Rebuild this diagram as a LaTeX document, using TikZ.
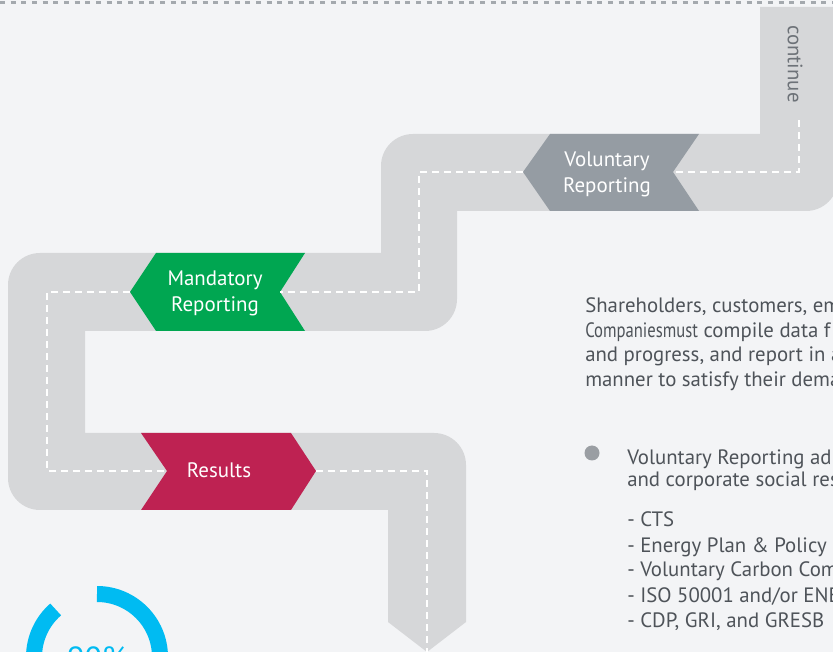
\documentclass[tikz,border=0pt]{standalone}
\usepackage{fontspec}
\setmainfont{PT Sans}
\usepackage{graphicx}
\definecolor{bg}{HTML}{F3F4F6}
\definecolor{roadgray}{HTML}{D6D7D9}
\definecolor{topdash}{HTML}{A4A9AE}
\definecolor{volgray}{HTML}{959CA3}
\definecolor{mandgreen}{HTML}{00A651}
\definecolor{rescrim}{HTML}{BE2252}
\definecolor{ringcyan}{HTML}{00BBF2}
\definecolor{txtgray}{HTML}{4E5359}
\definecolor{contgray}{HTML}{6D7278}
\definecolor{bulgray}{HTML}{9A9EA3}
\tikzset{
  road/.style={fill=roadgray},
  centerdash/.style={draw=white, line width=1.9pt, dash pattern=on 5.25pt off 3.75pt},
  chevtext/.style={text=white, font=\fontsize{15.7}{19.5}\selectfont, align=center, inner sep=0pt},
  bodytext/.style={text=txtgray, font=\fontsize{15.6}{18}\selectfont, anchor=base west, inner sep=0pt},
}
\begin{document}
\begin{tikzpicture}[x=0.75pt,y=-0.75pt]
\useasboundingbox (0,0) rectangle (833,652);
\clip (0,0) rectangle (833,652);
\fill[bg] (0,0) rectangle (833,652);
% top dashed rule
\draw[topdash, line width=2.2pt, dash pattern=on 3.75pt off 4.25pt] (0,2.5) -- (833,2.5);
% road
\fill[road] (760,7) -- (838,7) -- (838,179) .. controls (838,196.7) and (823.7,211) .. (806,211)
  -- (457,211) -- (457,299) .. controls (457,316.7) and (442.7,331) .. (425,331)
  -- (85,331) -- (85,433) -- (434,433) .. controls (451.7,433) and (466,447.3) .. (466,465)
  -- (466,622) -- (427,652) -- (388,622) -- (388,510) -- (40,510)
  .. controls (22.3,510) and (8,495.7) .. (8,478) -- (8,285)
  .. controls (8,267.3) and (22.3,253) .. (40,253) -- (381,253) -- (381,166)
  .. controls (381,148.3) and (395.3,134) .. (413,134) -- (760,134) -- cycle;
% chevrons
\fill[volgray] (523,172) -- (550,134) -- (699,134) -- (673,172) -- (699,211) -- (550,211) -- cycle;
\fill[mandgreen] (130,292) -- (156,253) -- (305,253) -- (280,292) -- (305,331) -- (156,331) -- cycle;
\fill[rescrim] (141,433) -- (291,433) -- (316,471) -- (291,510) -- (141,510) -- (167,471) -- cycle;
\node[chevtext] (vol) at (607,174) {Voluntary\\Reporting};
\node[chevtext] (mand) at (215,293) {Mandatory\\Reporting};
\node[chevtext, anchor=base] (res) at (219,478) {Results};
% connector anchor points
\coordinate (start) at (799,120);
\coordinate (c1) at (799,172);
\coordinate (volR) at (673,172);
\coordinate (volL) at (523,172);
\coordinate (c2) at (419,172);
\coordinate (c3) at (419,292);
\coordinate (mandR) at (280,292);
\coordinate (mandL) at (130,292);
\coordinate (c4) at (47,292);
\coordinate (c5) at (47,471);
\coordinate (resL) at (167,471);
\coordinate (resR) at (316,471);
\coordinate (c6) at (427,471);
\coordinate (tip) at (427,652);
\draw[centerdash] (start) -- (c1) -- (volR);
\draw[centerdash] (volL) -- (c2) -- (c3) -- (mandR);
\draw[centerdash] (mandL) -- (c4) -- (c5) -- (resL);
\draw[centerdash] (resR) -- (c6) -- (tip);
% continue label
\node[text=contgray, font=\fontsize{15.6}{17}\selectfont, rotate=-90, inner sep=0pt] (cont) at (795,64) {continue};
% body text
\node[bodytext] (t1) at (585,313) {Shareholders, customers, em};
\node[bodytext] (t2) at (585,338) {\scalebox{0.8}[1]{Companiesmust} compile data f};
\node[bodytext] (t3) at (585,362) {and progress, and report in a};
\node[bodytext] (t4) at (585,387) {manner to satisfy their dema};
% bullet list
\fill[bulgray] (592,453) circle[radius=7.5];
\node[bodytext] (b1) at (627,465) {Voluntary Reporting ad};
\node[bodytext] (b2) at (627,487) {and corporate social res};
\node[bodytext] (b3) at (627,527) {- CTS};
\node[bodytext] (b4) at (627,552) {- Energy Plan \& Policy};
\node[bodytext] (b5) at (627,577) {- Voluntary Carbon Com};
\node[bodytext] (b6) at (627,603) {- ISO 50001 and/or ENE};
\node[bodytext] (b7) at (627,628) {- CDP, GRI, and GRESB};
% ring
\draw[ringcyan, line width=12pt] (97,594) arc[start angle=-90, end angle=229, radius=63];
\node[text=ringcyan, font=\fontsize{24}{28}\selectfont, anchor=base, inner sep=0pt] (pct) at (97,669) {90\%};
\end{tikzpicture}
\end{document}
